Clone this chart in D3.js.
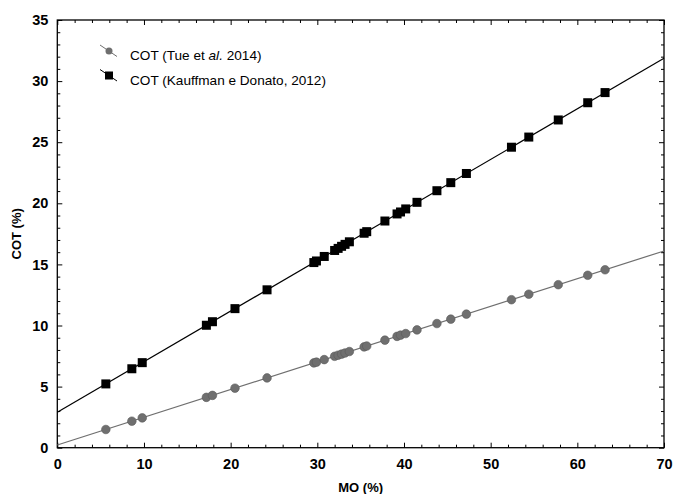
<!DOCTYPE html>
<html>
<head>
<meta charset="utf-8">
<script src="https://cdn.jsdelivr.net/npm/d3@7"></script>
<style>
  body { margin: 0; background: #fff; }
  svg text { font-family: "Liberation Sans", Arial, sans-serif; }
</style>
</head>
<body>
<div id="chart"></div>
<script>
// ============================================
// Data
// ============================================

const moValues = [5.6, 8.6, 9.8, 17.2, 17.9, 20.5, 24.2, 29.6, 29.9, 30.8,
  32.0, 32.4, 32.8, 33.2, 33.7, 35.4, 35.7, 37.8, 39.2, 39.6,
  40.2, 41.5, 43.8, 45.4, 47.2, 52.4, 54.4, 57.8, 61.2, 63.2];

const cotKauffman = [5.22, 6.46, 6.96, 10.02, 10.31, 11.38, 12.92, 15.15, 15.28, 15.65,
  16.14, 16.31, 16.48, 16.64, 16.85, 17.55, 17.68, 18.55, 19.13, 19.29,
  19.54, 20.08, 21.03, 21.69, 22.44, 24.59, 25.42, 26.82, 28.23, 29.06];

const cotTue = [1.49, 2.17, 2.44, 4.12, 4.28, 4.87, 5.71, 6.94, 7.00, 7.21,
  7.48, 7.57, 7.66, 7.75, 7.87, 8.25, 8.32, 8.80, 9.11, 9.21,
  9.34, 9.64, 10.16, 10.52, 10.93, 12.11, 12.56, 13.34, 14.11, 14.56];

// fitted lines, end points at MO = 0 and MO = 70
const fitKauffman = [[0, 2.9], [70, 31.87]];
const fitTue = [[0, 0.22], [70, 16.1]];

const xTicks = [0, 10, 20, 30, 40, 50, 60, 70];
const yTicks = [0, 5, 10, 15, 20, 25, 30, 35];

const legendLabels = ['COT (Tue et al. 2014)', 'COT (Kauffman e Donato, 2012)'];

// ============================================
// Setup
// ============================================

const W = 673, H = 494;
const margin = { top: 20, right: 9, bottom: 46.3, left: 57.3 };
const innerW = W - margin.left - margin.right;
const innerH = H - margin.top - margin.bottom;

const grey = '#6f6f6f';

const svg = d3.select('#chart').append('svg')
  .attr('width', W)
  .attr('height', H);

const g = svg.append('g')
  .attr('transform', `translate(${margin.left},${margin.top})`);

const x = d3.scaleLinear().domain([0, 70]).range([0, innerW]);
const y = d3.scaleLinear().domain([0, 35]).range([innerH, 0]);

// ============================================
// Axes (ticks point inward, mirrored on top/right)
// ============================================

const xMinor = d3.range(0, 71, 2).filter(v => v % 10 !== 0);
const yMinor = d3.range(0, 36, 1).filter(v => v % 5 !== 0);

function styleAxis(sel) {
  sel.select('.domain').remove();
  sel.selectAll('line').attr('stroke', '#000').attr('stroke-width', 1);
  sel.selectAll('text')
    .attr('fill', '#000')
    .style('font-size', '14.5px')
    .style('font-weight', 'bold');
}

// bottom
g.append('g')
  .attr('transform', `translate(0,${innerH})`)
  .call(d3.axisBottom(x).tickValues(xTicks).tickSize(-5).tickPadding(11))
  .call(styleAxis);
g.append('g')
  .attr('transform', `translate(0,${innerH})`)
  .call(d3.axisBottom(x).tickValues(xMinor).tickSize(-3).tickFormat(''))
  .call(styleAxis);

// top
g.append('g')
  .call(d3.axisTop(x).tickValues(xTicks).tickSize(-5).tickFormat(''))
  .call(styleAxis);
g.append('g')
  .call(d3.axisTop(x).tickValues(xMinor).tickSize(-3).tickFormat(''))
  .call(styleAxis);

// left
g.append('g')
  .call(d3.axisLeft(y).tickValues(yTicks).tickSize(-5).tickPadding(9))
  .call(styleAxis);
g.append('g')
  .call(d3.axisLeft(y).tickValues(yMinor).tickSize(-3).tickFormat(''))
  .call(styleAxis);

// right
g.append('g')
  .attr('transform', `translate(${innerW},0)`)
  .call(d3.axisRight(y).tickValues(yTicks).tickSize(-5).tickFormat(''))
  .call(styleAxis);
g.append('g')
  .attr('transform', `translate(${innerW},0)`)
  .call(d3.axisRight(y).tickValues(yMinor).tickSize(-3).tickFormat(''))
  .call(styleAxis);

// frame
g.append('rect')
  .attr('width', innerW)
  .attr('height', innerH)
  .attr('fill', 'none')
  .attr('stroke', '#000')
  .attr('stroke-width', 1.3);

// axis titles
svg.append('text')
  .attr('x', margin.left + innerW / 2)
  .attr('y', H - 2)
  .attr('text-anchor', 'middle')
  .style('font-size', '13px')
  .style('font-weight', 'bold')
  .text('MO (%)');

svg.append('text')
  .attr('transform', `translate(21,${margin.top + innerH / 2}) rotate(-90)`)
  .attr('text-anchor', 'middle')
  .style('font-size', '13px')
  .style('font-weight', 'bold')
  .text('COT (%)');

// ============================================
// Fit lines + points
// ============================================

const line = d3.line().x(d => x(d[0])).y(d => y(d[1]));

g.append('path').datum(fitTue)
  .attr('d', line).attr('fill', 'none')
  .attr('stroke', grey).attr('stroke-width', 1.2);

g.append('path').datum(fitKauffman)
  .attr('d', line).attr('fill', 'none')
  .attr('stroke', '#000').attr('stroke-width', 1.2);

g.selectAll('.pt-tue')
  .data(moValues.map((m, i) => [m, cotTue[i]]))
  .join('circle')
  .attr('class', 'pt-tue')
  .attr('cx', d => x(d[0]))
  .attr('cy', d => y(d[1]))
  .attr('r', 4.3)
  .attr('fill', grey)
  .attr('stroke', '#5a5a5a')
  .attr('stroke-width', 0.6);

const sq = 9;
g.selectAll('.pt-k')
  .data(moValues.map((m, i) => [m, cotKauffman[i]]))
  .join('rect')
  .attr('class', 'pt-k')
  .attr('x', d => x(d[0]) - sq / 2)
  .attr('y', d => y(d[1]) - sq / 2)
  .attr('width', sq)
  .attr('height', sq)
  .attr('fill', '#000');

// ============================================
// Legend
// ============================================

const legend = svg.append('g').attr('transform', 'translate(100,0)');

const legendItems = [
  { label: legendLabels[0], cy: 51, color: grey, shape: 'circle' },
  { label: legendLabels[1], cy: 75.5, color: '#000', shape: 'square' }
];

legendItems.forEach(item => {
  legend.append('line')
    .attr('x1', 0).attr('y1', item.cy - 6)
    .attr('x2', 17).attr('y2', item.cy + 5.5)
    .attr('stroke', item.color).attr('stroke-width', 1);
  if (item.shape === 'circle') {
    legend.append('circle')
      .attr('cx', 9).attr('cy', item.cy)
      .attr('r', 3.5).attr('fill', grey);
  } else {
    legend.append('rect')
      .attr('x', 9 - 4).attr('y', item.cy - 4)
      .attr('width', 8).attr('height', 8)
      .attr('fill', '#000');
  }
  const t = legend.append('text')
    .attr('x', 30)
    .attr('y', item.cy + 9)
    .style('font-size', '13.6px')
    .attr('fill', '#000');
  if (item.shape === 'circle') {
    // "al." is italic in the original
    t.append('tspan').text('COT (Tue et ');
    t.append('tspan').style('font-style', 'italic').text('al.');
    t.append('tspan').text(' 2014)');
  } else {
    t.text(item.label);
  }
});
</script>
</body>
</html>
